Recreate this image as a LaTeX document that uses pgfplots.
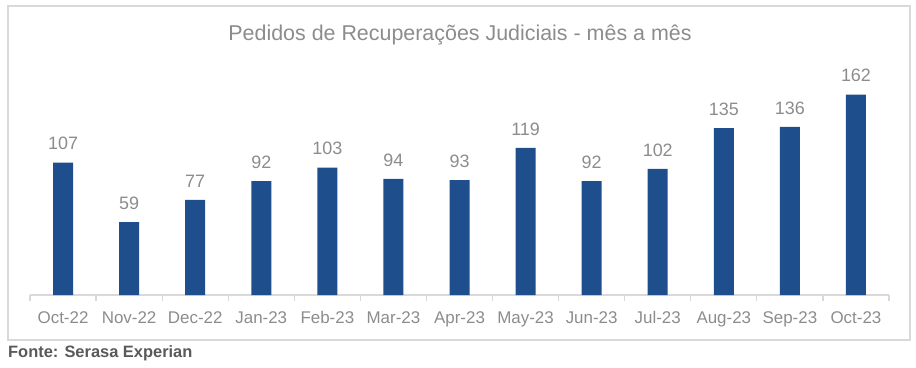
\documentclass[border=0pt]{standalone}
\usepackage{pgfplots}
\pgfplotsset{compat=1.18}
\usepackage{fontspec}
\setmainfont{Liberation Sans}
\definecolor{barblue}{HTML}{1F4E8C}
\definecolor{txtgray}{HTML}{8C8C8C}
\definecolor{linegray}{HTML}{D9D9D9}
\definecolor{srcgray}{HTML}{595959}
\begin{document}
\begin{tikzpicture}[x=1bp,y=1bp]
\path (-30,-72) rectangle (886,295);
\draw[linegray, line width=1.5bp] (-22,-45) rectangle (880,289);
\begin{axis}[
  at={(0,0)}, anchor=south west,
  scale only axis,
  width=859bp, height=230bp,
  xmin=-0.5, xmax=12.5,
  ymin=0, ymax=186,
  axis x line=bottom,
  axis y line=none,
  axis line style={linegray, line width=1.2bp, -},
  xtick={0,...,12},
  xticklabels={Oct-22,Nov-22,Dec-22,Jan-23,Feb-23,Mar-23,Apr-23,May-23,Jun-23,Jul-23,Aug-23,Sep-23,Oct-23},
  major tick length=0pt,
  minor xtick={-0.5,0.5,...,12.5},
  minor tick length=6bp,
  tick align=outside,
  minor tick style={linegray, line width=1.2bp},
  x tick label style={font=\fontsize{17}{20}\selectfont, text=txtgray, anchor=base, yshift=-28bp, text height=12bp},
  /pgf/number format/assume math mode=true,
  ybar, bar width=20bp,
  nodes near coords,
  nodes near coords style={font=\fontsize{18}{21}\selectfont, text=txtgray, anchor=south, yshift=9bp},
  clip=false,
]
\addplot[fill=barblue, draw=none] coordinates {
(0,107) (1,59) (2,77) (3,92) (4,103) (5,94) (6,93) (7,119) (8,92) (9,102) (10,135) (11,136) (12,162)};
\end{axis}
\node[text=txtgray, font=\fontsize{21.5}{25}\selectfont] at (430,260) {Pedidos de Recuperações Judiciais - mês a mês};
\node[anchor=west, inner sep=0pt, text=srcgray, font=\fontsize{16.5}{19}\selectfont\bfseries] at (-22,-58) {Fonte: Serasa Experian};
\end{tikzpicture}
\end{document}
